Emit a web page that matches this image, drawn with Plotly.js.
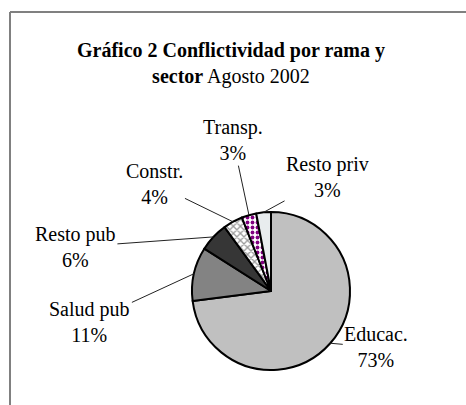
<!DOCTYPE html>
<html><head><meta charset="utf-8">
<script src="https://cdn.plot.ly/plotly-3.0.1.min.js"></script>
<style>html,body{margin:0;padding:0;background:#fff}</style>
</head><body>
<div id="chart" style="width:466px;height:405px"></div>
<script>
const categories = ["Educac.", "Salud pub", "Resto pub", "Constr.", "Transp.", "Resto priv"];
const values = [73, 11, 6, 4, 3, 3];
const sliceColors = ["#c0c0c0", "#838383", "#363636", "#e4e4e4", "#ffffff", "#e8ecee"];
const patternShapes = ["", "", "", "x", ".", ""];
const patternFg = ["#000", "#000", "#000", "#9a9a9a", "#800080", "#000"];
// label text-centre offsets (px) relative to each slice's edge midpoint
const labelOffsets = [[46, 4], [-104, 48], [-138, 10], [-78, -38], [-16, -75], [64, -35]];

const W = 466, H = 405;
const cx = 271, cy = 291, r = 79;

const total = values.reduce((a, b) => a + b, 0);
let cum = 0;
const annotations = values.map((v, i) => {
  const mid = (cum + v / 2) / total;
  cum += v;
  const th = mid * 2 * Math.PI;
  const px = cx + r * Math.sin(th);
  const py = cy - r * Math.cos(th);
  return {
    xref: "paper", yref: "paper",
    x: px / W, y: 1 - py / H,
    ax: labelOffsets[i][0], ay: labelOffsets[i][1],
    text: categories[i] + "<br>" + Math.round(v / total * 100) + "%",
    showarrow: true, arrowhead: 0, arrowwidth: 1, arrowcolor: "#222",
    standoff: 0, startstandoff: 0,
    font: {family: "Liberation Serif", size: 20, color: "#000"},
    align: "center"
  };
});

const trace = {
  type: "pie",
  labels: categories,
  values: values,
  sort: false,
  direction: "clockwise",
  rotation: 0,
  textinfo: "none",
  hoverinfo: "label+percent",
  marker: {
    colors: sliceColors,
    line: {color: "#000", width: 2},
    pattern: {shape: patternShapes, fgcolor: patternFg, size: 5, solidity: 0.45}
  },
  domain: {x: [(cx - r) / W, (cx + r) / W], y: [1 - (cy + r) / H, 1 - (cy - r) / H]},
  showlegend: false
};

const layout = {
  width: W, height: H,
  margin: {l: 0, r: 0, t: 0, b: 0},
  paper_bgcolor: "#fff",
  showlegend: false,
  title: {
    text: "<b>Gráfico 2 Conflictividad por rama y<br>sector</b> Agosto 2002",
    font: {family: "Liberation Serif", size: 20, color: "#000"},
    x: 231 / W, xanchor: "center",
    y: 1 - 57 / H, yanchor: "middle"
  },
  annotations: annotations,
  shapes: [
    {type: "line", xref: "paper", yref: "paper", x0: 10 / W, x1: 1, y0: 1 - 12 / H, y1: 1 - 12 / H, line: {color: "#808080", width: 2}},
    {type: "line", xref: "paper", yref: "paper", x0: 10 / W, x1: 10 / W, y0: 0, y1: 1 - 12 / H, line: {color: "#808080", width: 2}}
  ]
};

Plotly.newPlot("chart", [trace], layout, {displayModeBar: false, staticPlot: true});
</script>
</body></html>
